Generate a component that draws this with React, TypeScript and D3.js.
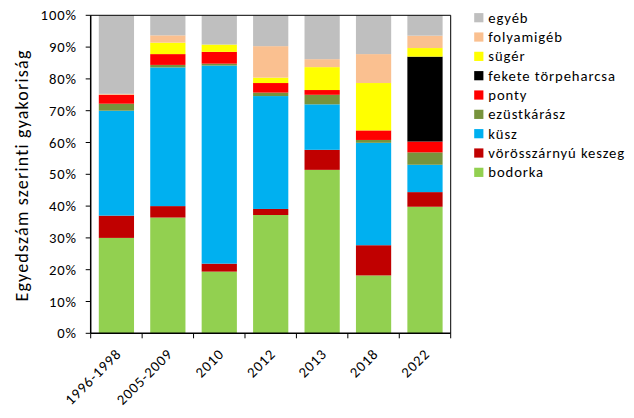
import React from "react";
import * as d3 from "d3";

const categories = ["1996-1998", "2005-2009", "2010", "2012", "2013", "2018", "2022"];
const seriesNames = ["bodorka", "vörösszárnyú keszeg", "küsz", "ezüstkárász", "ponty", "fekete törpeharcsa", "sügér", "folyamigéb", "egyéb"];
const seriesColors = ["#92D050", "#C00000", "#00B0F0", "#77933C", "#FF0000", "#000000", "#FFFF00", "#FAC090", "#BFBFBF"];

const bodorka = [30.0, 36.4, 19.4, 37.2, 51.4, 18.2, 39.8];
const voros = [7.0, 3.6, 2.5, 1.9, 6.3, 9.5, 4.6];
const kusz = [33.0, 43.6, 62.3, 35.5, 14.3, 32.2, 8.6];
const ezust = [2.2, 0.8, 0.6, 1.1, 3.0, 0.9, 3.9];
const ponty = [2.8, 3.4, 3.7, 3.0, 1.5, 3.0, 3.4];
const fekete = [0, 0, 0, 0, 0, 0, 26.7];
const suger = [0, 3.6, 2.3, 1.7, 7.2, 14.9, 2.7];
const folyamigeb = [0.3, 2.3, 0, 9.9, 2.5, 9.1, 3.9];
const egyeb = [24.7, 6.3, 9.2, 9.7, 13.8, 12.2, 6.4];

const yTicks = [0, 10, 20, 30, 40, 50, 60, 70, 80, 90, 100];

export default function App() {
  const W = 634, H = 418;
  const left = 90.7, right = 450.7, top = 15.3, bottom = 333.3;
  const values = [bodorka, voros, kusz, ezust, ponty, fekete, suger, folyamigeb, egyeb];
  const rows = categories.map((c, i) => {
    const r: any = { cat: c };
    seriesNames.forEach((s, j) => (r[s] = values[j][i]));
    return r;
  });
  const stacked = d3.stack().keys(seriesNames)(rows);
  const x = d3.scaleBand().domain(categories).range([left, right]).paddingInner(0.315).paddingOuter(0.1575);
  const step = (right - left) / categories.length;
  const y = d3.scaleLinear().domain([0, 100]).range([bottom, top]);
  const font = "Carlito, Calibri, 'Liberation Sans', Arial, sans-serif";
  const fs = 14.67;
  const ls = 0.9;

  return (
    <svg width={W} height={H} style={{ position: "absolute", left: 0, top: 0, background: "#fff" }}>
      <rect x={0} y={0} width={W} height={H} fill="#fff" />
      {stacked.map((layer, j) => (
        <g key={j} fill={seriesColors[j]}>
          {layer.map((d, i) => {
            const h = y(d[0]) - y(d[1]);
            if (h <= 0) return null;
            return <rect key={i} x={x(categories[i])} y={y(d[1])} width={x.bandwidth()} height={h} />;
          })}
        </g>
      ))}
      {/* plot border */}
      <line x1={left} x2={right} y1={top} y2={top} stroke="#000" strokeWidth={1} />
      <line x1={right} x2={right} y1={top} y2={bottom} stroke="#000" strokeWidth={1} />
      {/* y axis */}
      <line x1={left} x2={left} y1={top} y2={bottom} stroke="#000" strokeWidth={1.5} />
      {yTicks.map((t) => (
        <g key={t}>
          <line x1={left - 5} x2={left} y1={y(t)} y2={y(t)} stroke="#000" />
          <text x={77} y={y(t)} dy="0.35em" textAnchor="end" fontSize={fs} letterSpacing={ls} fontFamily={font} fill="#000">{t}%</text>
        </g>
      ))}
      {/* x axis */}
      <line x1={left} x2={right} y1={bottom} y2={bottom} stroke="#000" strokeWidth={1.5} />
      {d3.range(categories.length + 1).map((i) => (
        <line key={i} x1={left + i * step} x2={left + i * step} y1={bottom} y2={bottom + 5} stroke="#000" />
      ))}
      {categories.map((c) => {
        const cx = (x(c) as number) + x.bandwidth() / 2 + 2;
        const cy = bottom + 18;
        return (
          <text key={c} x={cx} y={cy} textAnchor="end" fontSize={fs} letterSpacing={ls} fontFamily={font} fill="#000"
            transform={`rotate(-45 ${cx} ${cy})`} dy="0.35em">{c}</text>
        );
      })}
      <text x={0} y={0} transform={`translate(22 175.5) rotate(-90)`} textAnchor="middle" dy="0.35em"
        fontSize={18} letterSpacing={1.2} fontFamily={font} fill="#000">Egyedszám szerinti gyakoriság</text>
      {/* legend */}
      {seriesNames.slice().reverse().map((s, k) => {
        const j = seriesNames.length - 1 - k;
        const cy = 17.7 + k * 19.33;
        return (
          <g key={s}>
            <rect x={474.2} y={cy - 4.6} width={9.2} height={9.2} fill={seriesColors[j]} />
            <text x={488.3} y={cy} dy="0.35em" fontSize={fs} letterSpacing={ls} fontFamily={font} fill="#000">{s}</text>
          </g>
        );
      })}
    </svg>
  );
}
